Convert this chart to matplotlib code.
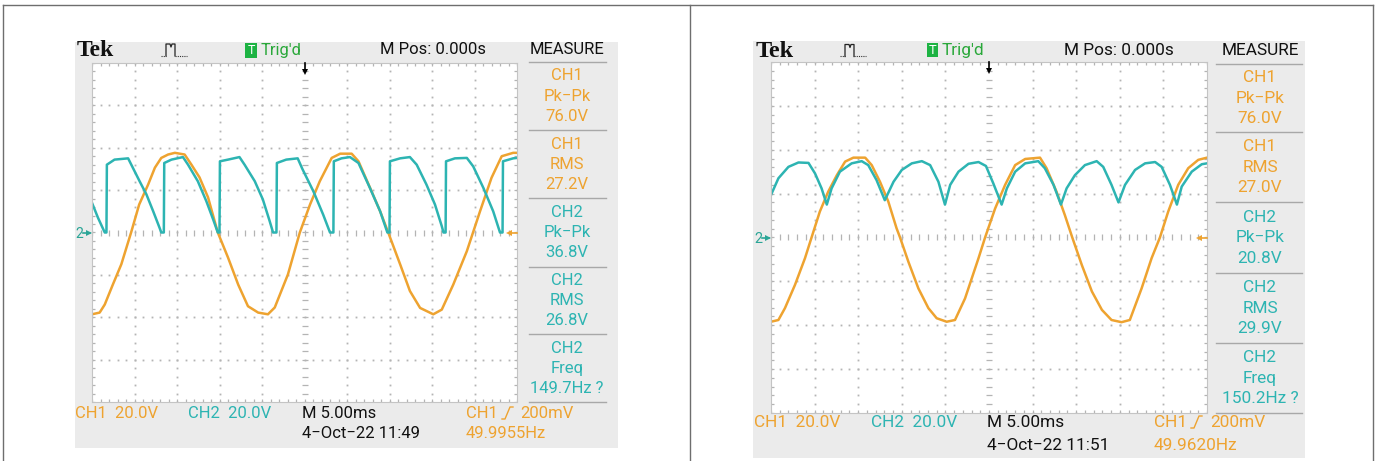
import matplotlib.pyplot as plt
import numpy as np
from matplotlib import font_manager
from matplotlib.patches import Rectangle

### Colours and fonts

W, H = 1376, 461
ORANGE = '#eea330'
TEAL = '#2db4b2'
GREEN = '#2aa83a'
PANEL = '#ebebeb'
GRID = '#b4b4b4'

_names = {f.name for f in font_manager.fontManager.ttflist}
SANS = 'Liberation Sans Narrow' if 'Liberation Sans Narrow' in _names else 'Roboto'
SERIF = 'Liberation Serif'

### Data (time in divisions from centre, voltage in divisions from ground)

# left capture, 11:49
left_ch1 = [(-5.0, -1.93), (-4.82, -1.89), (-4.70, -1.70), (-4.51, -1.23), (-4.31, -0.75),
            (-4.08, 0.0), (-3.89, 0.66), (-3.68, 1.13), (-3.52, 1.53), (-3.37, 1.76),
            (-3.21, 1.84), (-3.05, 1.88), (-2.82, 1.84), (-2.66, 1.60), (-2.47, 1.30),
            (-2.27, 0.83), (-2.04, 0.0), (-1.80, -0.59), (-1.56, -1.23), (-1.33, -1.74),
            (-1.09, -1.89), (-0.86, -1.93), (-0.70, -1.77), (-0.39, -0.99), (-0.11, 0.0),
            (0.13, 0.66), (0.36, 1.21), (0.64, 1.76), (0.84, 1.86), (1.11, 1.86),
            (1.27, 1.68), (1.54, 1.06), (1.78, 0.50), (1.97, 0.0), (2.25, -0.75),
            (2.48, -1.38), (2.72, -1.78), (3.03, -1.93), (3.23, -1.82), (3.50, -1.23),
            (3.82, -0.44), (4.13, 0.50), (4.40, 1.29), (4.64, 1.80), (4.91, 1.88), (5.0, 1.88)]

left_ch2 = [(-5.0, 0.70), (-4.86, 0.35), (-4.70, 0.0), (-4.66, 0.0), (-4.65, 1.60),
            (-4.47, 1.72), (-4.15, 1.75), (-4.04, 1.53), (-3.88, 1.21), (-3.72, 0.90),
            (-3.56, 0.50), (-3.41, 0.11), (-3.37, 0.0), (-3.31, 0.0), (-3.30, 1.64),
            (-3.13, 1.72), (-2.86, 1.78), (-2.74, 1.60), (-2.51, 1.21), (-2.31, 0.74),
            (-2.15, 0.31), (-2.04, 0.0), (-2.00, 0.0), (-1.99, 1.68), (-1.80, 1.72),
            (-1.53, 1.78), (-1.41, 1.60), (-1.17, 1.21), (-0.98, 0.78), (-0.82, 0.27),
            (-0.74, 0.0), (-0.66, 0.0), (-0.65, 1.64), (-0.43, 1.72), (-0.16, 1.75),
            (-0.05, 1.50), (0.21, 0.97), (0.44, 0.42), (0.60, 0.0), (0.68, 0.0),
            (0.69, 1.68), (0.87, 1.75), (1.07, 1.78), (1.27, 1.64), (1.54, 1.05),
            (1.78, 0.50), (1.95, 0.0), (2.00, 0.0), (2.01, 1.68), (2.25, 1.75),
            (2.48, 1.78), (2.64, 1.60), (2.87, 1.13), (3.07, 0.66), (3.23, 0.15),
            (3.27, 0.0), (3.32, 0.0), (3.33, 1.68), (3.54, 1.75), (3.82, 1.76),
            (3.97, 1.56), (4.21, 1.05), (4.44, 0.50), (4.60, 0.0), (4.66, 0.0),
            (4.67, 1.68), (4.91, 1.75), (5.0, 1.76)]

# right capture, 11:51
right_ch1 = [(-5.0, -1.92), (-4.83, -1.88), (-4.68, -1.61), (-4.45, -1.08), (-4.22, -0.47),
             (-4.07, 0.0), (-3.88, 0.59), (-3.69, 1.04), (-3.49, 1.42), (-3.30, 1.73),
             (-3.11, 1.82), (-2.84, 1.82), (-2.69, 1.65), (-2.50, 1.27), (-2.31, 0.82),
             (-2.12, 0.21), (-2.04, 0.0), (-1.85, -0.55), (-1.62, -1.16), (-1.39, -1.61),
             (-1.20, -1.84), (-0.97, -1.92), (-0.78, -1.88), (-0.55, -1.39), (-0.24, -0.47),
             (-0.09, 0.0), (0.14, 0.66), (0.37, 1.20), (0.60, 1.65), (0.83, 1.79),
             (1.17, 1.82), (1.32, 1.58), (1.55, 1.04), (1.74, 0.51), (1.91, 0.0),
             (2.13, -0.63), (2.36, -1.23), (2.59, -1.65), (2.81, -1.88), (3.04, -1.93),
             (3.23, -1.88), (3.50, -1.16), (3.73, -0.47), (3.92, 0.0), (4.11, 0.59),
             (4.34, 1.20), (4.57, 1.58), (4.80, 1.77), (5.0, 1.82)]

right_ch2 = [(-5.0, 0.97), (-4.83, 1.35), (-4.60, 1.61), (-4.37, 1.71), (-4.14, 1.70),
             (-3.99, 1.46), (-3.84, 1.12), (-3.72, 0.75), (-3.61, 1.12), (-3.42, 1.50),
             (-3.15, 1.69), (-2.92, 1.74), (-2.77, 1.65), (-2.58, 1.31), (-2.39, 0.85),
             (-2.19, 1.27), (-2.00, 1.54), (-1.77, 1.69), (-1.54, 1.74), (-1.35, 1.65),
             (-1.16, 1.27), (-1.01, 0.75), (-0.89, 1.20), (-0.70, 1.50), (-0.47, 1.68),
             (-0.24, 1.72), (-0.07, 1.63), (0.10, 1.23), (0.29, 0.75), (0.41, 1.12),
             (0.60, 1.50), (0.83, 1.69), (1.13, 1.74), (1.28, 1.58), (1.48, 1.20),
             (1.65, 0.75), (1.78, 1.12), (1.97, 1.42), (2.20, 1.65), (2.47, 1.74),
             (2.62, 1.61), (2.81, 1.20), (2.97, 0.80), (3.12, 1.20), (3.35, 1.54),
             (3.58, 1.69), (3.81, 1.72), (3.96, 1.61), (4.15, 1.20), (4.31, 0.75),
             (4.42, 1.16), (4.65, 1.50), (4.88, 1.67), (5.0, 1.69)]

# measurement readouts (label, name, value, colour)
left_measure = [('CH1', 'Pk\u2212Pk', '76.0V', ORANGE), ('CH1', 'RMS', '27.2V', ORANGE),
                ('CH2', 'Pk\u2212Pk', '36.8V', TEAL), ('CH2', 'RMS', '26.8V', TEAL),
                ('CH2', 'Freq', '149.7Hz ?', TEAL)]
right_measure = [('CH1', 'Pk\u2212Pk', '76.0V', ORANGE), ('CH1', 'RMS', '27.0V', ORANGE),
                 ('CH2', 'Pk\u2212Pk', '20.8V', TEAL), ('CH2', 'RMS', '29.9V', TEAL),
                 ('CH2', 'Freq', '150.2Hz ?', TEAL)]

left_stamp = '4\u2212Oct\u221222 11:49'
right_stamp = '4\u2212Oct\u221222 11:51'
left_trig_freq = '49.9955Hz'
right_trig_freq = '49.9620Hz'

### Layout of the two screen captures (pixels)

left_layout = dict(box=(75, 42, 618, 448), grat=(92, 63, 517, 402), head_y=50,
                   tek_x=77, pulse_x=161, tbox=(245, 43, 12, 15), trig_x=261, mpos_x=380,
                   meas_cx=567, sep_x=(529, 606), seps=[62, 130, 198, 267, 334, 402],
                   row1=413, row2=433, ch1_x=75, ch2_x=188, m_x=302, tch_x=466, sym_x=502,
                   mv_x=520, two_x=75, fs=12)
right_layout = dict(box=(753, 41, 1305, 458), grat=(771, 62, 1207, 413), head_y=50.5,
                    tek_x=756, pulse_x=840, tbox=(927, 43, 11, 14), trig_x=942, mpos_x=1064,
                    meas_cx=1260, sep_x=(1216, 1302), seps=[64, 132, 202, 273, 343, 413],
                    row1=422, row2=445, ch1_x=754, ch2_x=871, m_x=987, tch_x=1154, sym_x=1191,
                    mv_x=1210, two_x=754, fs=12.4)

### Set up figure

fig = plt.figure(figsize=(W / 100, H / 100), dpi=100)
bg = fig.add_axes([0, 0, 1, 1], zorder=0)
bg.set_xlim(0, W)
bg.set_ylim(H, 0)
bg.axis('off')
ov = fig.add_axes([0, 0, 1, 1], zorder=3)
ov.set_xlim(0, W)
ov.set_ylim(H, 0)
ov.axis('off')
ov.patch.set_alpha(0)

# page table lines
bg.plot([3, 1373], [5, 5], color='#6e6e6e', lw=1)
for xx in (3, 690, 1373):
    bg.plot([xx, xx], [5, H], color='#6e6e6e', lw=1)


def draw_graticule(ax):
    ax.set_xlim(-5, 5)
    ax.set_ylim(-4, 4)
    ax.set_xticks([])
    ax.set_yticks([])
    for s in ax.spines.values():
        s.set_color('#c4c4c4')
        s.set_linewidth(0.8)
    fx = np.arange(-5, 5.001, 0.2)
    fy = np.arange(-4, 4.001, 0.2)
    for gx in range(-4, 5):
        if gx != 0:
            ax.plot(np.full_like(fy, gx), fy, ls='none', marker='s', ms=1.3, mew=0, color=GRID)
    for gy in range(-3, 4):
        if gy != 0:
            ax.plot(fx, np.full_like(fx, gy), ls='none', marker='s', ms=1.3, mew=0, color=GRID)
    ax.plot(np.zeros_like(fy), fy, ls='none', marker='_', ms=4, mew=0.9, color=GRID)
    ax.plot(fx, np.zeros_like(fx), ls='none', marker='|', ms=4, mew=0.9, color=GRID)
    ax.plot(fx, np.full_like(fx, 4), ls='none', marker='|', ms=5, mew=0.9, color=GRID, clip_on=True)
    ax.plot(fx, np.full_like(fx, -4), ls='none', marker='|', ms=5, mew=0.9, color=GRID, clip_on=True)
    ax.plot(np.full_like(fy, -5), fy, ls='none', marker='_', ms=5, mew=0.9, color=GRID, clip_on=True)
    ax.plot(np.full_like(fy, 5), fy, ls='none', marker='_', ms=5, mew=0.9, color=GRID, clip_on=True)


def draw_scope(lay, ch1, ch2, measure, stamp, trig_freq):
    x0, y0, x1, y1 = lay['box']
    bg.add_patch(Rectangle((x0, y0), x1 - x0, y1 - y0, color=PANEL, lw=0))
    gx0, gy0, gx1, gy1 = lay['grat']
    ax = fig.add_axes([gx0 / W, 1 - gy1 / H, (gx1 - gx0) / W, (gy1 - gy0) / H], zorder=1)
    ax.set_facecolor('white')
    draw_graticule(ax)

    t1, v1 = zip(*ch1)
    t2, v2 = zip(*ch2)
    ax.plot(t1, v1, color=ORANGE, lw=1.8, solid_joinstyle='round')
    ax.plot(t2, v2, color=TEAL, lw=1.8, solid_joinstyle='round')

    fs = lay['fs']
    hy = lay['head_y']
    ov.text(lay['tek_x'], hy + 1, 'Tek', family=SERIF, weight='bold', fontsize=fs + 5,
            ha='left', va='center', color='#111111')
    px = lay['pulse_x']
    ov.plot([px, px + 5], [hy + 6, hy + 6], color='#333333', lw=0.8, ls=(0, (1, 1)))
    ov.plot([px + 5, px + 5, px + 9, px + 10, px + 11, px + 14, px + 14],
            [hy + 6, hy - 6, hy - 6, hy - 3, hy - 6, hy - 6, hy + 6], color='#222222', lw=0.9)
    ov.plot([px + 14, px + 26], [hy + 6, hy + 6], color='#333333', lw=0.8, ls=(0, (1, 1)))
    bx, by, bw, bh = lay['tbox']
    ov.add_patch(Rectangle((bx, by), bw, bh, color='#1db343', lw=0))
    ov.text(bx + bw / 2, by + bh / 2 + 0.5, 'T', family=SANS, fontsize=fs - 3, color='white',
            ha='center', va='center')
    ov.text(lay['trig_x'], hy, "Trig'd", family=SANS, fontsize=fs, color=GREEN, ha='left', va='center')
    ov.text(lay['mpos_x'], hy, 'M Pos: 0.000s', family=SANS, fontsize=fs, color='#111111',
            ha='left', va='center')
    cx = lay['meas_cx']
    ov.text(cx, hy, 'MEASURE', family=SANS, fontsize=fs, color='#111111', ha='center', va='center')

    seps = lay['seps']
    sx0, sx1 = lay['sep_x']
    for s in seps:
        ov.plot([sx0, sx1], [s, s], color='#a8a8a8', lw=1)
    step = 20.5 if fs > 12.2 else 20
    for i, (ch, name, val, col) in enumerate(measure):
        mid = (seps[i] + seps[i + 1]) / 2
        for k, txt in enumerate((ch, name, val)):
            ov.text(cx, mid + (k - 1) * step, txt, family=SANS, fontsize=fs, color=col,
                    ha='center', va='center')

    # trigger position and level markers, ch2 ground marker
    tx = (gx0 + gx1) / 2
    ov.plot([tx, tx], [gy0, gy0 + 8], color='black', lw=1.2)
    ov.plot([tx], [gy0 + 9], marker='v', ms=5, color='black', mew=0)
    gy = (gy0 + gy1) / 2
    ov.text(lay['two_x'], gy + 1, '2', family=SANS, fontsize=fs - 2, color='#2aa596', ha='left', va='center')
    ov.plot([lay['two_x'] + 8, gx0 - 2], [gy, gy], color='#2aa596', lw=1.2)
    ov.plot([gx0 - 3], [gy], marker='>', ms=4, color='#2aa596', mew=0)
    ov.plot([gx1 - 7, gx1], [gy, gy], color=ORANGE, lw=1.2)
    ov.plot([gx1 - 8], [gy], marker='<', ms=5, color=ORANGE, mew=0)

    # bottom status rows
    r1, r2 = lay['row1'], lay['row2']
    ov.text(lay['ch1_x'], r1, 'CH1  20.0V', family=SANS, fontsize=fs, color=ORANGE, ha='left', va='center')
    ov.text(lay['ch2_x'], r1, 'CH2  20.0V', family=SANS, fontsize=fs, color=TEAL, ha='left', va='center')
    ov.text(lay['m_x'], r1, 'M 5.00ms', family=SANS, fontsize=fs, color='#111111', ha='left', va='center')
    ov.text(lay['m_x'], r2, stamp, family=SANS, fontsize=fs, color='#111111', ha='left', va='center')
    ov.text(lay['tch_x'], r1, 'CH1', family=SANS, fontsize=fs, color=ORANGE, ha='left', va='center')
    sx = lay['sym_x']
    ov.plot([sx, sx + 3, sx + 8, sx + 11], [r1 + 6, r1 + 6, r1 - 6, r1 - 6], color=ORANGE, lw=1)
    ov.text(lay['mv_x'], r1, '200mV', family=SANS, fontsize=fs, color=ORANGE, ha='left', va='center')
    ov.text(lay['tch_x'], r2, trig_freq, family=SANS, fontsize=fs, color=ORANGE, ha='left', va='center')


draw_scope(left_layout, left_ch1, left_ch2, left_measure, left_stamp, left_trig_freq)
draw_scope(right_layout, right_ch1, right_ch2, right_measure, right_stamp, right_trig_freq)

fig.savefig('out.png', dpi=100)
plt.close(fig)
